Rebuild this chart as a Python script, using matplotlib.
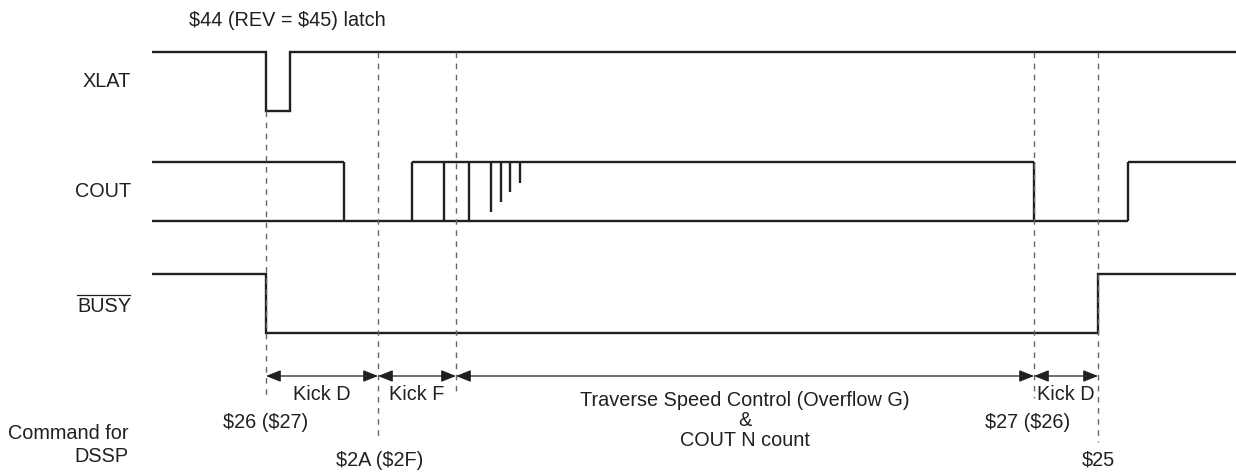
import matplotlib
matplotlib.use("Agg")
import matplotlib.pyplot as plt

plt.rcParams["text.parse_math"] = False

# ---------------- data (time axis in drawing units) ----------------
signal_names = ["XLAT", "COUT", "BUSY"]

xlat_edges = [152, 266, 290, 1236]
xlat_levels = [1, 0, 1]

busy_edges = [152, 266, 1098, 1236]
busy_levels = [1, 0, 1]

cout_high_spans = [(152, 344), (412, 1034), (1128, 1236)]
cout_low_span = (152, 1128)
cout_full_edges = [344, 412, 444, 469, 1034, 1128]
cout_spike_x = [491, 501, 510, 520]
cout_spike_depth = [0.85, 0.68, 0.52, 0.36]

marker_x = [266, 378, 456, 1034, 1098]
segment_labels = ["Kick D", "Kick F", "Traverse Speed Control (Overflow G)\n&\nCOUT N count", "Kick D"]
command_labels = ["$26 ($27)", "$2A ($2F)", "$27 ($26)", "$25"]
command_x = [266, 380, 1028, 1098]
command_row = [0, 1, 0, 1]

top_note = "$44 (REV = $45) latch"
side_note = "Command for\nDSSP"

# ---------------- layout ----------------
row_high = {"XLAT": 52, "COUT": 162, "BUSY": 274}
swing = 58.5
ink = "#231f20"
fs = 14.3
font = "Liberation Sans"

fig = plt.figure(figsize=(12.36, 4.72), dpi=100)
ax = fig.add_axes([0, 0, 1, 1])
ax.set_xlim(0, 1236)
ax.set_ylim(472, 0)
ax.axis("off")

def yl(name, level):
    return row_high[name] + (1 - level) * swing

lw = 1.7
def wave(name, edges, levels):
    ys = [yl(name, v) for v in levels] + [yl(name, levels[-1])]
    ax.plot(edges, ys, drawstyle="steps-post", color=ink, lw=lw,
            solid_joinstyle="miter", solid_capstyle="butt")

wave("XLAT", xlat_edges, xlat_levels)
wave("BUSY", busy_edges, busy_levels)

# COUT
for a, b in cout_high_spans:
    ax.plot([a, b], [yl("COUT", 1)] * 2, color=ink, lw=lw, solid_capstyle="butt")
ax.plot(list(cout_low_span), [yl("COUT", 0)] * 2, color=ink, lw=lw, solid_capstyle="butt")
for x in cout_full_edges:
    ax.plot([x, x], [yl("COUT", 1), yl("COUT", 0)], color=ink, lw=lw, solid_capstyle="butt")
for x, d in zip(cout_spike_x, cout_spike_depth):
    ax.plot([x, x], [yl("COUT", 1), yl("COUT", 1 - d)], color=ink, lw=lw, solid_capstyle="butt")

# dashed markers
marker_top = [yl("XLAT", 0), yl("XLAT", 1), yl("XLAT", 1), yl("XLAT", 1), yl("XLAT", 1)]
marker_bot = [398, 440, 394, 398, 442]
for x, t, b in zip(marker_x, marker_top, marker_bot):
    ax.plot([x, x], [t, b], color="#666666", lw=1.0, ls=(0, (4, 4)))

# arrows and segment labels
arrow_y = 376
for (a, b), lab in zip(zip(marker_x[:-1], marker_x[1:]), segment_labels):
    ax.annotate("", xy=(b, arrow_y), xytext=(a, arrow_y),
                arrowprops=dict(arrowstyle="<|-|>,head_length=0.45,head_width=0.18",
                                mutation_scale=20, color=ink, lw=0.9,
                                shrinkA=0, shrinkB=0))
    if "\n" in lab:
        ax.text((a + b) / 2, 391, lab, ha="center", va="top", fontsize=fs,
                family=font, color=ink, linespacing=1.08)
    else:
        ax.text((a + b) / 2, 394, lab, ha="center", va="center", fontsize=fs,
                family=font, color=ink)

# commands
cmd_y = [422, 460]
for lab, x, r in zip(command_labels, command_x, command_row):
    ax.text(x, cmd_y[r], lab, ha="center", va="center", fontsize=fs, family=font, color=ink)

# signal labels
for name in signal_names:
    yc = row_high[name] + swing / 2 + (3 if name == "BUSY" else 0)
    ax.text(131, yc, name, ha="right", va="center", fontsize=fs, family=font, color=ink)
# overline for BUSY
ax.plot([77, 130], [295, 295], color=ink, lw=0.9)

ax.text(189, 21, top_note, ha="left", va="center", fontsize=fs, family=font, color=ink)
ax.text(129, 445, side_note, ha="right", va="center", fontsize=fs, family=font,
        color=ink, multialignment="right", linespacing=1.25)

fig.savefig("out.png", dpi=100)
